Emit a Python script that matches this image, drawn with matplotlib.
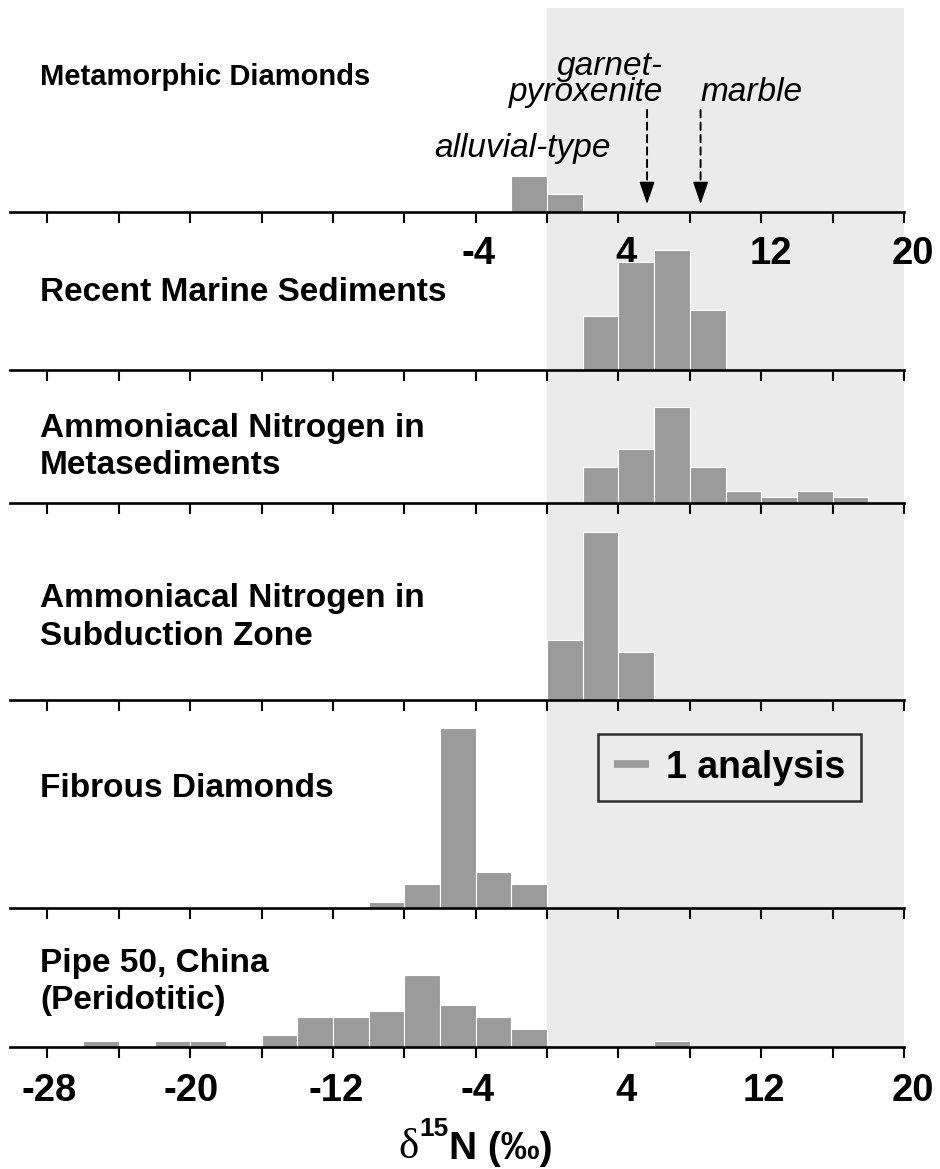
import matplotlib
matplotlib.use("Agg")
import matplotlib.pyplot as plt
import matplotlib.transforms as mtransforms
from matplotlib.patches import FancyArrowPatch
from matplotlib.lines import Line2D

# ---------------------------------------------------------------
# delta-15N histograms (2 permil bins, counts = number of analyses)
# ---------------------------------------------------------------
BIN = 2.0

meta_left = [-2, 0]
meta_counts = [6, 3]

marine_left = [2, 4, 6, 8]
marine_counts = [9, 18, 20, 10]

metased_left = [2, 4, 6, 8, 10, 12, 14, 16]
metased_counts = [6, 9, 16, 6, 2, 1, 2, 1]

subduction_left = [0, 2, 4]
subduction_counts = [10, 28, 8]

fibrous_left = [-10, -8, -6, -4, -2]
fibrous_counts = [1, 4, 30, 6, 4]

pipe50_left = [-26, -22, -20, -16, -14, -12, -10, -8, -6, -4, -2, 6]
pipe50_counts = [1, 1, 1, 2, 5, 5, 6, 12, 7, 5, 3, 1]

# reference values marked with arrows in the metamorphic panel
arrow_values = [5.6, 8.6]

tick_values = list(range(-28, 21, 4))
top_tick_labels = [-4, 4, 12, 20]
bottom_tick_labels = [-28, -20, -12, -4, 4, 12, 20]
shade_range = (0, 20)

# ---------------------------------------------------------------
W, H, DPI = 940, 1169, 100
PX_PER_COUNT = 6.0
X_LEFT_PX, X_RIGHT_PX = 10, 904
XMIN, XMAX = -30.1, 20.0

BAR = "#9b9b9b"
SHADE = "#ebebeb"
SANS = ["Liberation Sans", "DejaVu Sans"]
SERIF = ["Liberation Serif", "DejaVu Serif"]
TICK_FS = 27.5

# horizontal nudges (px) of the numbers relative to their ticks
top_label_dx = [3, 8, 10, 9]
bottom_label_dx = [2, 1, 3, 2, 8, 3, 9]


def fy(ypx):
    return 1 - ypx / H


fig = plt.figure(figsize=(W / DPI, H / DPI), dpi=DPI)
fig.patch.set_facecolor("white")

# light field behind the positive delta values
bg = fig.add_axes([X_LEFT_PX / W, fy(1047), (X_RIGHT_PX - X_LEFT_PX) / W, (1047 - 8) / H])
bg.set_xlim(XMIN, XMAX)
bg.set_ylim(0, 1)
bg.axis("off")
bg.axvspan(*shade_range, color=SHADE, lw=0)

panels = [
    dict(lines=[("Metamorphic Diamonds", 85)], size=21, left=meta_left, counts=meta_counts, base=212, height=150),
    dict(lines=[("Recent Marine Sediments", 301)], size=24, left=marine_left, counts=marine_counts, base=370, height=140),
    dict(lines=[("Ammoniacal Nitrogen in", 437), ("Metasediments", 474)], size=24,
         left=metased_left, counts=metased_counts, base=503, height=120),
    dict(lines=[("Ammoniacal Nitrogen in", 607), ("Subduction Zone", 645)], size=24,
         left=subduction_left, counts=subduction_counts, base=700, height=190),
    dict(lines=[("Fibrous Diamonds", 797)], size=24, left=fibrous_left, counts=fibrous_counts, base=908, height=200),
    dict(lines=[("Pipe 50, China", 972), ("(Peridotitic)", 1009)], size=24,
         left=pipe50_left, counts=pipe50_counts, base=1047, height=120),
]


def number_axis(ax, values, dx_px, drop_px):
    # numbers hang below the tick marks, slightly nudged to the right
    for v, dx in zip(values, dx_px):
        ax.annotate(str(v), xy=(v, 0), xycoords=("data", "axes fraction"),
                    xytext=(dx * 0.72, -drop_px * 0.72), textcoords="offset points",
                    ha="center", va="top", fontsize=TICK_FS, fontweight="bold",
                    family=SANS, annotation_clip=False)


axes = []
for i, p in enumerate(panels):
    ax = fig.add_axes([X_LEFT_PX / W, fy(p["base"]), (X_RIGHT_PX - X_LEFT_PX) / W, p["height"] / H])
    ax.set_xlim(XMIN, XMAX)
    ax.set_ylim(0, p["height"] / PX_PER_COUNT)
    ax.patch.set_alpha(0)
    for s in ("top", "left", "right"):
        ax.spines[s].set_visible(False)
    ax.spines["bottom"].set_linewidth(1.9)
    ax.bar(p["left"], p["counts"], width=BIN, align="edge", color=BAR,
           edgecolor="white", linewidth=0.8, clip_on=False)
    ax.set_yticks([])
    ax.set_xticks(tick_values)
    ax.set_xticklabels([])
    ax.tick_params(axis="x", direction="out", length=8, width=1.5, colors="black")
    if i == 0:
        number_axis(ax, top_tick_labels, top_label_dx, 24)
    elif i == len(panels) - 1:
        number_axis(ax, bottom_tick_labels, bottom_label_dx, 26)
    for text, ybase in p["lines"]:
        fig.text(40 / W, fy(ybase), text, fontsize=p["size"], fontweight="bold",
                 family=SANS, ha="left", va="baseline")
    axes.append(ax)

# annotations in the metamorphic panel
ax1 = axes[0]
blend = mtransforms.blended_transform_factory(ax1.transData, fig.transFigure)
for xv in arrow_values:
    ax1.add_patch(FancyArrowPatch((xv, fy(110)), (xv, fy(187)), transform=blend,
                                  arrowstyle="-", linestyle=(0, (3.8, 2.6)), lw=1.4,
                                  color="black", clip_on=False, shrinkA=0, shrinkB=0))
    ax1.add_patch(FancyArrowPatch((xv, fy(184)), (xv, fy(204)), transform=blend,
                                  arrowstyle="-|>,head_length=14,head_width=4.8", mutation_scale=1,
                                  lw=1.0, color="black", clip_on=False, shrinkA=0, shrinkB=0))

ITAL = dict(fontsize=24, style="italic", family=SANS)
fig.text(663 / W, fy(101), "garnet-\npyroxenite", ha="right", va="baseline",
         multialignment="right", linespacing=0.78, **ITAL)
fig.text(700 / W, fy(101), "marble", ha="left", va="baseline", **ITAL)
fig.text(434 / W, fy(157), "alluvial-type", ha="left", va="baseline", **ITAL)

# scale legend: one analysis
leg = axes[4].legend(handles=[Line2D([], [], color=BAR, lw=5.5, solid_capstyle="butt")],
                     labels=["1 analysis"], loc="center",
                     bbox_to_anchor=(729.5 / W, fy(767.5)), bbox_transform=fig.transFigure,
                     prop=dict(family=SANS, weight="bold", size=27),
                     frameon=True, fancybox=False, edgecolor="black", facecolor="none",
                     borderpad=0.42, handlelength=0.92, handletextpad=0.45)
leg.get_frame().set_linewidth(1.8)

# axis title: delta 15N (permil)
t1 = fig.text(398 / W, fy(1158), "\u03b4", fontsize=31, family=SERIF, ha="left", va="baseline")
t2 = bg.annotate("15", xy=(1.0, 0.0), xycoords=t1, xytext=(1, 19), textcoords="offset points",
                 fontsize=19, fontweight="bold", family=SANS, ha="left", va="bottom", annotation_clip=False)
t3 = bg.annotate("N (\u2030)", xy=(1.0, 0.0), xycoords=(t2, t1), xytext=(0, 0), textcoords="offset points",
                 fontsize=28, fontweight="bold", family=SANS, ha="left", va="bottom", annotation_clip=False)

fig.savefig("out.png", dpi=DPI, facecolor="white")
